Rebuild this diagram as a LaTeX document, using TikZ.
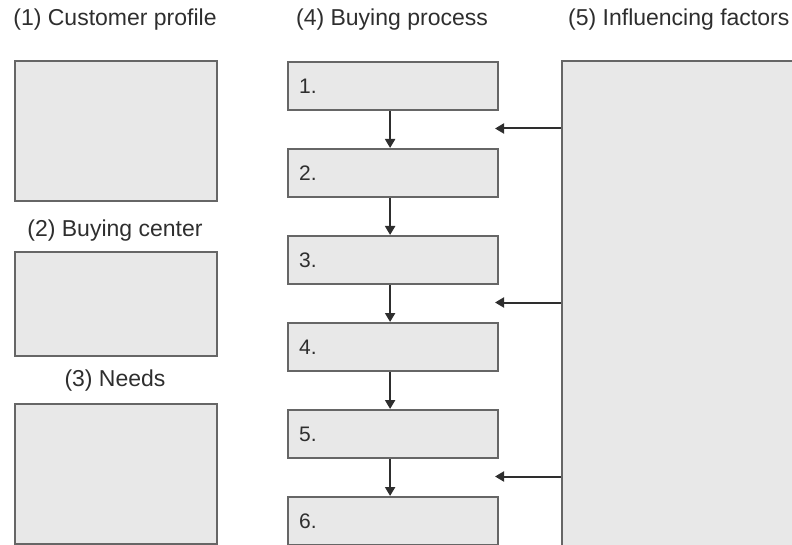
\documentclass[tikz,border=0pt]{standalone}
\usepackage{fontspec}
\setmainfont{Liberation Sans}
\usetikzlibrary{arrows.meta}
\definecolor{boxfill}{HTML}{E8E8E8}
\definecolor{boxline}{HTML}{666666}
\definecolor{ink}{HTML}{2E2E2E}
\tikzset{
  panel/.style={draw=boxline, fill=boxfill, line width=2.2pt, rectangle, anchor=north west, inner sep=0pt},
  stepbox/.style={panel, minimum width=210pt, minimum height=48pt, text width=188pt, align=left,
    font=\fontsize{21}{25}\selectfont, text=ink},
  heading/.style={font=\fontsize{23}{27}\selectfont, text=ink, inner sep=0pt},
  flow/.style={draw=ink, line width=2pt, -{Triangle[width=10pt,length=9pt]}}
}
\begin{document}
\begin{tikzpicture}[x=1pt,y=-1pt]
\useasboundingbox (0,0) rectangle (792,545);
\clip (0,0) rectangle (792,545);
% headings
\node[heading] (h1) at (115,20) {(1) Customer profile};
\node[heading] (h4) at (392,20) {(4) Buying process};
\node[heading, anchor=west] (h5) at (568,20) {(5) Influencing factors};
\node[heading] (h2) at (115,231) {(2) Buying center};
\node[heading] (h3) at (115,381) {(3) Needs};
% left panels
\node[panel, minimum width=202pt, minimum height=140pt] (p1) at (14,60) {};
\node[panel, minimum width=202pt, minimum height=104pt] (p2) at (14,251) {};
\node[panel, minimum width=202pt, minimum height=140pt] (p3) at (14,403) {};
% right panel
\node[panel, minimum width=260pt, minimum height=500pt] (p5) at (561,60) {};
% buying process steps
\foreach \i/\y in {1/61,2/148,3/235,4/322,5/409,6/496}{
  \node[stepbox] (s\i) at (287,\y) {\i.};
}
% arrows between steps
\foreach \a/\b in {1/2,2/3,3/4,4/5,5/6}{
  \draw[flow] ([xshift=-3pt]s\a.south) -- ([xshift=-3pt]s\b.north);
}
% influence arrows
\coordinate (i1) at (561,128.5);
\coordinate (i2) at (561,302.5);
\coordinate (i3) at (561,476.5);
\coordinate (t1) at (495,128.5);
\coordinate (t2) at (495,302.5);
\coordinate (t3) at (495,476.5);
\draw[flow] (i1) -- (t1);
\draw[flow] (i2) -- (t2);
\draw[flow] (i3) -- (t3);
\end{tikzpicture}
\end{document}
